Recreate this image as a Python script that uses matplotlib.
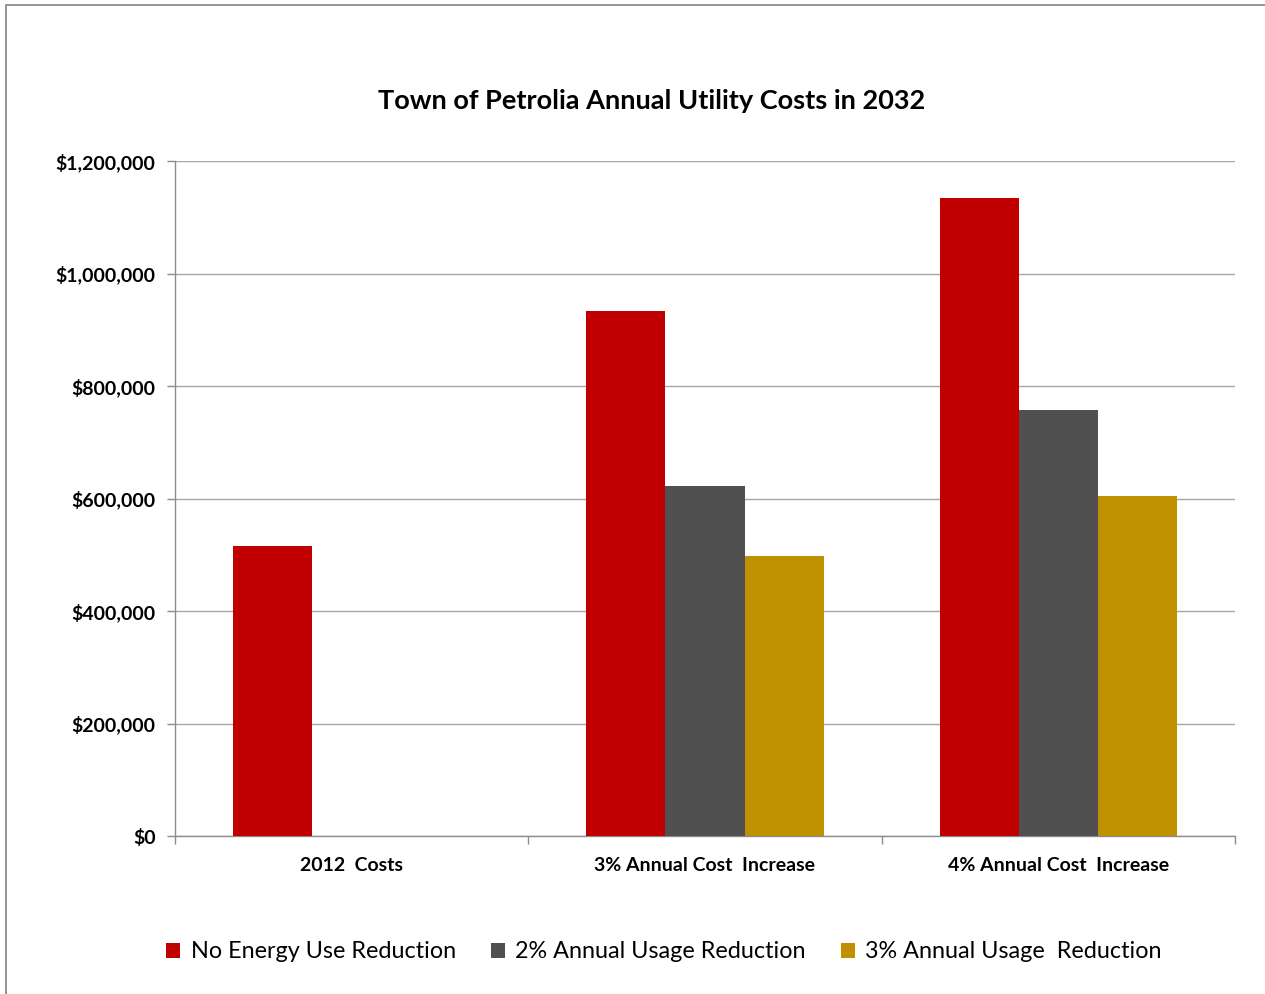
import matplotlib
matplotlib.use("Agg")
import matplotlib.pyplot as plt
from matplotlib.patches import Rectangle, Patch
from matplotlib.ticker import FuncFormatter, FixedLocator
import numpy as np

categories = ["2012  Costs", "3% Annual Cost  Increase", "4% Annual Cost  Increase"]
series_names = ["No Energy Use Reduction", "2% Annual Usage Reduction", "3% Annual Usage  Reduction"]
no_reduction = [516000, 933000, 1134000]
usage_2pct = [0, 622000, 757000]
usage_3pct = [0, 498000, 604000]
colors = ["#C00000", "#505050", "#BF9000"]
yticks = [0, 200000, 400000, 600000, 800000, 1000000, 1200000]

plt.rcParams['font.family'] = ['Lato', 'DejaVu Sans']

fig = plt.figure(figsize=(12.65, 9.94), dpi=100)
fig.patches.append(Rectangle((6/1265, -0.1), 1.2, (994-5)/994 + 0.1, transform=fig.transFigure,
                             fill=False, edgecolor="#8C8C8C", linewidth=1.3))
ax = fig.add_axes([175/1265, (994-836)/994, (1235-175)/1265, (836-161)/994])

x = np.arange(len(categories))
w = 0.224
data = [no_reduction, usage_2pct, usage_3pct]
for i, (vals, c) in enumerate(zip(data, colors)):
    vals = np.array(vals, dtype=float)
    mask = vals > 0
    ax.bar(x[mask] + (i - 1) * w, vals[mask], width=w, color=c, zorder=3)

ax.set_xlim(-0.5, len(categories) - 0.5)
ax.set_ylim(0, 1200000)
ax.yaxis.set_major_locator(FixedLocator(yticks))
ax.yaxis.set_major_formatter(FuncFormatter(lambda v, p: "${:,.0f}".format(v)))
ax.grid(axis="y", color="#A6A6A6", linewidth=1.0, zorder=0)
ax.set_axisbelow(True)

ax.set_xticks(x)
ax.set_xticklabels(categories, fontsize=14, fontweight="bold")
ax.tick_params(axis="x", which="major", length=0, pad=15)
ax.xaxis.set_minor_locator(FixedLocator(np.arange(-0.5, len(categories), 1.0)))
ax.tick_params(axis="x", which="minor", length=6, color="#8C8C8C", width=1)
ax.tick_params(axis="y", length=6, color="#8C8C8C", width=1, pad=8, labelsize=14)
for lab in ax.get_yticklabels():
    lab.set_fontweight("bold")

for s in ["top", "right"]:
    ax.spines[s].set_visible(False)
for s in ["left", "bottom"]:
    ax.spines[s].set_color("#8C8C8C")
    ax.spines[s].set_linewidth(1)

fig.text(652/1265, 1 - 101/994, "Town of Petrolia Annual Utility Costs in 2032",
         ha="center", va="center", fontsize=19.5, fontweight="bold")

handles = [Patch(facecolor=c, edgecolor="none") for c in colors]
fig.legend(handles, series_names, loc="center", bbox_to_anchor=(664/1265, 1 - 952/994),
           ncol=3, frameon=False, fontsize=16.8, handlelength=0.6, handleheight=0.6,
           handletextpad=0.45, columnspacing=1.5)

fig.savefig("out.png", dpi=100)
